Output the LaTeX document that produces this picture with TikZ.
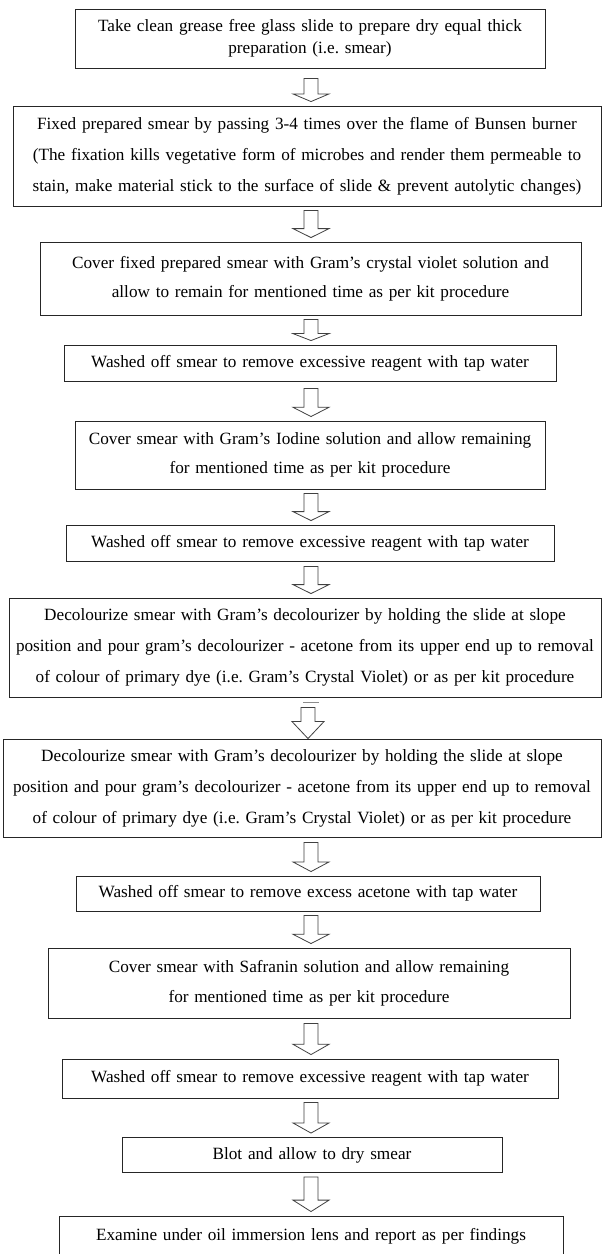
\documentclass[tikz,border=0pt]{standalone}
\usepackage{fontspec}
\setmainfont{Liberation Serif}
\usetikzlibrary{calc}
\frenchspacing
\newcommand\flowarrow[3][4]{%
  \draw[flowarr] let \p1=(#2.south), \p2=(#3.north),
     \n1={\y1-#1pt}, \n2={\y2+4pt}, \n3={\n2+0.33*(\n1-\n2)} in
     (304pt,\n1) -- (318pt,\n1) -- (318pt,\n3) -- (329pt,\n3) -- (311pt,\n2)
     -- (293pt,\n3) -- (304pt,\n3) -- cycle;}
\begin{document}
\begin{tikzpicture}[x=1pt,y=1pt,
  box/.style={draw=black!85, line width=0.9pt, fill=white, inner sep=0pt,
    align=center, font=\fontsize{17.2pt}{31pt}\selectfont\frenchspacing},
  flowarr/.style={draw=black!75, line width=0.8pt, fill=white, line join=miter}]
\useasboundingbox (0,0) rectangle (603,-1254);
\fill[white] (0,0) rectangle (603,-1254);

\node[box, minimum width=470pt, minimum height=59pt, text width=470pt,
  font=\fontsize{17.2pt}{22pt}\selectfont\frenchspacing] (b1) at (310,-38.5)
  {Take clean grease free glass slide to prepare dry equal thick\\preparation (i.e. smear)};
\node[box, minimum width=588pt, minimum height=100pt, text width=588pt] (b2) at (307,-156)
  {Fixed prepared smear by passing 3-4 times over the flame of Bunsen burner\\(The fixation kills vegetative form of microbes and render them permeable to\\stain, make material stick to the surface of slide \& prevent autolytic changes)};
\node[box, minimum width=541pt, minimum height=73pt, text width=541pt,
  font=\fontsize{17.2pt}{29pt}\selectfont\frenchspacing] (b3) at (310.5,-278.5)
  {Cover fixed prepared smear with Gram’s crystal violet solution and\\allow to remain for mentioned time as per kit procedure};
\node[box, minimum width=492pt, minimum height=36pt, text width=492pt] (b4) at (310,-363)
  {Washed off smear to remove excessive reagent with tap water};
\node[box, minimum width=470pt, minimum height=68pt, text width=470pt,
  font=\fontsize{17.2pt}{29pt}\selectfont\frenchspacing] (b5) at (310,-455)
  {Cover smear with Gram’s Iodine solution and allow remaining\\for mentioned time as per kit procedure};
\node[box, minimum width=488pt, minimum height=36pt, text width=488pt] (b6) at (310,-543)
  {Washed off smear to remove excessive reagent with tap water};
\node[box, minimum width=592pt, minimum height=99pt, text width=592pt] (b7) at (305,-647.5)
  {Decolourize smear with Gram’s decolourizer by holding the slide at slope\\position and pour gram’s decolourizer - acetone from its upper end up to removal\\of colour of primary dye (i.e. Gram’s Crystal Violet) or as per kit procedure};
\node[box, minimum width=598pt, minimum height=98pt, text width=598pt] (b8) at (302,-788)
  {Decolourize smear with Gram’s decolourizer by holding the slide at slope\\position and pour gram’s decolourizer - acetone from its upper end up to removal\\of colour of primary dye (i.e. Gram’s Crystal Violet) or as per kit procedure};
\node[box, minimum width=464pt, minimum height=35pt, text width=464pt] (b9) at (308,-893.5)
  {Washed off smear to remove excess acetone with tap water};
\node[box, minimum width=522pt, minimum height=70pt, text width=522pt,
  font=\fontsize{17.2pt}{30pt}\selectfont\frenchspacing] (b10) at (309,-983)
  {Cover smear with Safranin solution and allow remaining\\for mentioned time as per kit procedure};
\node[box, minimum width=496pt, minimum height=39pt, text width=496pt] (b11) at (310,-1078.5)
  {Washed off smear to remove excessive reagent with tap water};
\node[box, minimum width=380pt, minimum height=35pt, text width=380pt] (b12) at (312,-1155)
  {Blot and allow to dry smear};
\node[box, minimum width=504pt, minimum height=40pt, text width=504pt] (b13) at (311,-1236)
  {Examine under oil immersion lens and report as per findings};

\flowarrow[10]{b1}{b2}
\flowarrow{b2}{b3}
\flowarrow{b3}{b4}
\flowarrow[7]{b4}{b5}
\flowarrow{b5}{b6}
\flowarrow[5]{b6}{b7}
% special arrow between the two decolourize boxes
\draw[draw=black!45, line width=1.2pt] let \p1=(b7.south) in (303pt,\y1-5pt) -- (319pt,\y1-5pt);
\draw[flowarr] let \p1=(b7.south), \p2=(b8.north) in
  (301pt,\y1-10pt) -- (315pt,\y1-10pt) -- (315pt,\y2+17pt) -- (324pt,\y2+17pt)
  -- (308pt,\y2) -- (292pt,\y2+17pt) -- (301pt,\y2+17pt) -- cycle;
\flowarrow[5]{b8}{b9}
\flowarrow{b9}{b10}
\flowarrow[5]{b10}{b11}
\flowarrow[4]{b11}{b12}
\flowarrow[4]{b12}{b13}
\end{tikzpicture}
\end{document}
